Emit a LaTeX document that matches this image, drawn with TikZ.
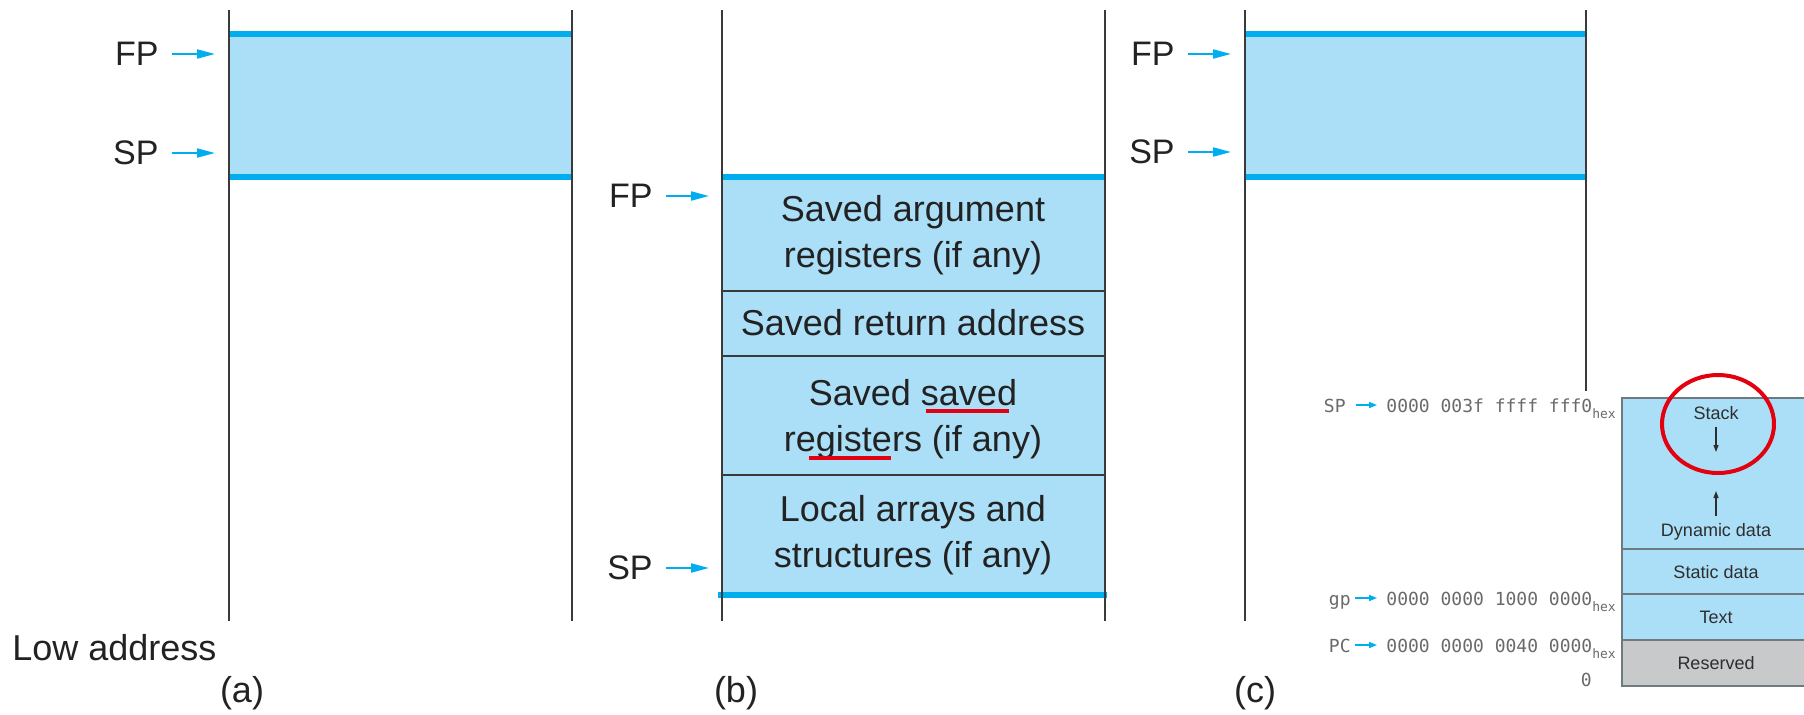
\documentclass[tikz,border=0pt]{standalone}
\usepackage{fontspec}
\setmainfont{Liberation Sans}
\newfontfamily\addrfont{DejaVu Sans Mono}
\usetikzlibrary{arrows.meta,positioning,calc}
\definecolor{sf-ink}{HTML}{222222}
\definecolor{sf-wall}{HTML}{3A3A3A}
\definecolor{sf-cyan}{HTML}{00AEEF}
\definecolor{sf-fill}{HTML}{ABDFF8}
\definecolor{sf-red}{HTML}{E3000F}
\definecolor{mm-grey}{HTML}{C8C9CB}
\definecolor{mm-edge}{HTML}{6E7A80}
\definecolor{mm-ink}{HTML}{2E2E2E}
\definecolor{mm-text}{HTML}{6A6A6A}

\begin{document}
\begin{tikzpicture}[
  x=0.5pt,y=-0.5pt,
  wall/.style={sf-wall,line width=1pt},
  rim/.style={sf-cyan,line width=2.7pt},
  cut/.style={sf-wall,line width=0.9pt},
  ptrlbl/.style={font=\fontsize{17}{20}\selectfont,text=sf-ink,inner sep=0pt,anchor=east},
  slot/.style={font=\fontsize{18}{23}\selectfont,text=sf-ink,inner sep=0pt,align=center},
  ptr/.style={-{Triangle[length=9pt,width=4.5pt]},sf-cyan,line width=1pt},
  redline/.style={sf-red,line width=2.3pt},
  mmline/.style={mm-edge,line width=0.8pt},
  mmlbl/.style={font=\fontsize{9}{11}\selectfont,text=mm-ink,inner sep=0pt},
  mmptr/.style={-{Triangle[length=3.5pt,width=2.5pt]},mm-ink,line width=0.6pt},
  addr/.style={font=\addrfont\fontsize{9}{11}\selectfont,text=mm-text,inner sep=0pt,anchor=base west},
  addrlbl/.style={font=\addrfont\fontsize{9}{11}\selectfont,text=mm-text,inner sep=0pt,anchor=base east},
  addrptr/.style={-{Triangle[length=4pt,width=3pt]},sf-cyan,line width=0.8pt}
]
\useasboundingbox (0,0) rectangle (1804,714);

% (a) caller frame
\fill[sf-fill] (229,34) rectangle (572,177);
\draw[rim] (229,34) -- (572,34);
\draw[rim] (229,177) -- (572,177);
\draw[wall] (229,10) -- (229,621);
\draw[wall] (572,10) -- (572,621);

\node[ptrlbl] (fpa) at (159,54)  {FP};
\node[ptrlbl] (spa) at (159,153) {SP};
\coordinate (fpa-tip) at (215,54);
\coordinate (spa-tip) at (215,153);
\draw[ptr] ([xshift=6.5pt]fpa.east) -- (fpa-tip);
\draw[ptr] ([xshift=6.5pt]spa.east) -- (spa-tip);

\node[slot,anchor=west] (low) at (12,648) {Low address};
\node[slot] (capa) at (242,693) {(a)};

% (b) during the call
\fill[sf-fill] (722,177) rectangle (1105,595);
\draw[cut] (722,291) -- (1105,291);
\draw[cut] (722,356) -- (1105,356);
\draw[cut] (722,475) -- (1105,475);
\draw[rim] (722,177) -- (1105,177);
\draw[rim] (718,595) -- (1107,595);
\draw[wall] (722,10) -- (722,621);
\draw[wall] (1105,10) -- (1105,621);

\node[slot] (argregs) at (913,235) {Saved argument\\registers (if any)};
\node[slot] (retaddr) at (913,323) {Saved return address};
\node[slot] (savregs) at (913,419) {Saved saved\\registers (if any)};
\node[slot] (locals)  at (913,535) {Local arrays and\\structures (if any)};
\draw[redline] (926,411) -- (1009,411);
\draw[redline] (809,458) -- (891,458);

\node[ptrlbl] (fpb) at (653,196) {FP};
\node[ptrlbl] (spb) at (653,568) {SP};
\coordinate (fpb-tip) at (709,196);
\coordinate (spb-tip) at (709,568);
\draw[ptr] ([xshift=6.5pt]fpb.east) -- (fpb-tip);
\draw[ptr] ([xshift=6.5pt]spb.east) -- (spb-tip);

\node[slot] (capb) at (736,693) {(b)};

% (c) after the call
\fill[sf-fill] (1245,34) rectangle (1586,177);
\draw[rim] (1245,34) -- (1586,34);
\draw[rim] (1245,177) -- (1586,177);
\draw[wall] (1245,10) -- (1245,621);
\draw[wall] (1586,10) -- (1586,621);

\node[ptrlbl] (fpc) at (1175,54)  {FP};
\node[ptrlbl] (spc) at (1175,152) {SP};
\coordinate (fpc-tip) at (1231,54);
\coordinate (spc-tip) at (1231,152);
\draw[ptr] ([xshift=6.5pt]fpc.east) -- (fpc-tip);
\draw[ptr] ([xshift=6.5pt]spc.east) -- (spc-tip);

\node[slot] (capc) at (1255,693) {(c)};

% memory map inset
\fill[white] (1300,391) rectangle (1804,714);
\fill[sf-fill] (1622,398) rectangle (1804,640);
\fill[mm-grey] (1622,640) rectangle (1804,686);
\draw[mmline] (1804,398) -- (1622,398) -- (1622,686) -- (1804,686);
\draw[mmline] (1622,549) -- (1804,549);
\draw[mmline] (1622,594) -- (1804,594);
\draw[mmline] (1622,640) -- (1804,640);

\node[mmlbl] (stack)    at (1716,413) {Stack};
\node[mmlbl] (dyndata)  at (1716,532) {Dynamic data};
\node[mmlbl] (statdata) at (1716,572) {Static data};
\node[mmlbl] (textseg)  at (1716,617) {Text};
\node[mmlbl] (reserved) at (1716,663) {Reserved};
\coordinate (stack-tip) at (1716,452);
\coordinate (heap-tip)  at (1716,491);
\draw[mmptr] ([yshift=-3.5pt]stack.south) -- (stack-tip);
\draw[mmptr] ([yshift=3.5pt]dyndata.north) -- (heap-tip);

\draw[sf-red,line width=2pt] (1718,424) ellipse [x radius=28pt, y radius=24.5pt];

\node[addrlbl] (spm) at (1346,412) {SP};
\node[addrlbl] (gpm) at (1351,605) {gp};
\node[addrlbl] (pcm) at (1351,652) {PC};
\coordinate (spm-tip) at (1377,405);
\coordinate (gpm-tip) at (1377,598);
\coordinate (pcm-tip) at (1377,645);
\draw[addrptr] ($(spm.east |- spm-tip)+(10,0)$) -- (spm-tip);
\draw[addrptr] ($(gpm.east |- gpm-tip)+(4,0)$) -- (gpm-tip);
\draw[addrptr] ($(pcm.east |- pcm-tip)+(4,0)$) -- (pcm-tip);
\node[addr] (spaddr) at (1386,412) {0000 003f ffff fff0\raisebox{-3pt}{\fontsize{6.5}{7}\selectfont hex}};
\node[addr] (gpaddr) at (1386,605) {0000 0000 1000 0000\raisebox{-3pt}{\fontsize{6.5}{7}\selectfont hex}};
\node[addr] (pcaddr) at (1386,652) {0000 0000 0040 0000\raisebox{-3pt}{\fontsize{6.5}{7}\selectfont hex}};
\node[addrlbl] (zero) at (1592,686) {0};

\end{tikzpicture}
\end{document}
